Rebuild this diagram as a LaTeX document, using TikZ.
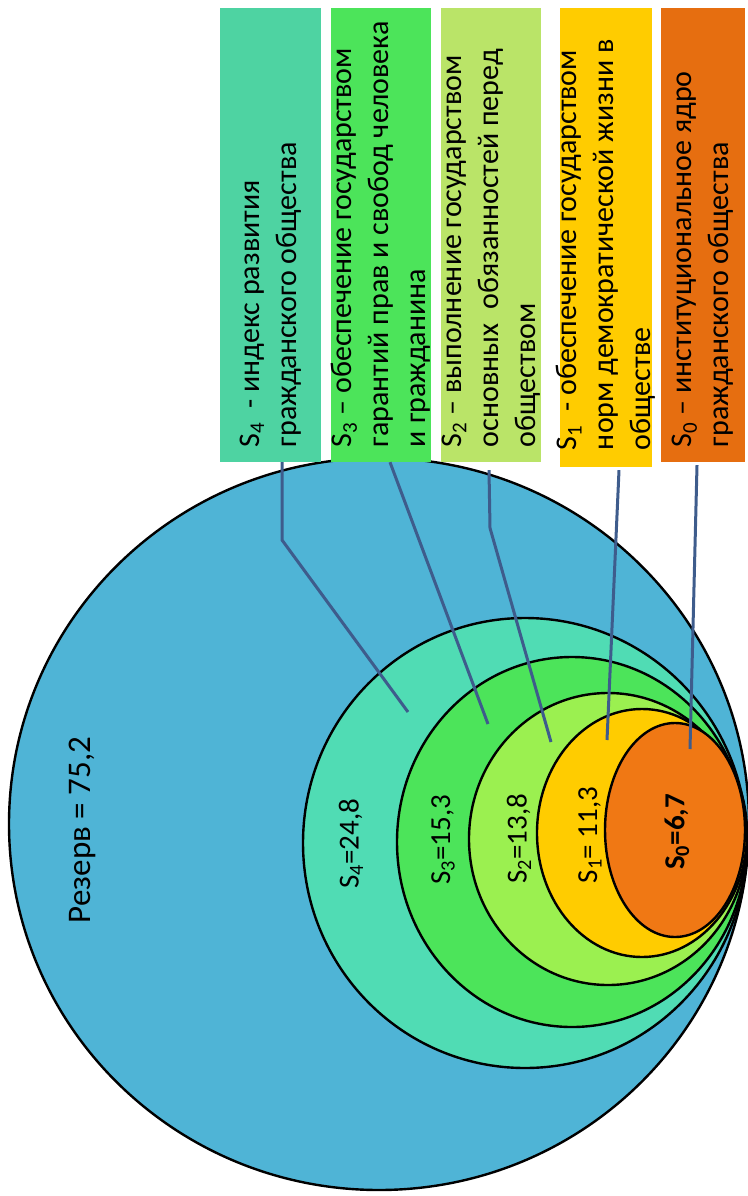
\documentclass[tikz,border=0pt]{standalone}
\usepackage{fontspec}
\setmainfont{Carlito}
\definecolor{rezerv}{HTML}{4FB4D6}
\definecolor{sfour}{HTML}{50DCB4}
\definecolor{sfourbox}{HTML}{4ED3A2}
\definecolor{sthree}{HTML}{4CE45A}
\definecolor{stwo}{HTML}{9BF050}
\definecolor{stwobox}{HTML}{BAE468}
\definecolor{sone}{HTML}{FFCC00}
\definecolor{szero}{HTML}{F07814}
\definecolor{szerobox}{HTML}{E66E10}
\definecolor{linkblue}{HTML}{3E5C8C}
\tikzset{
  ring/.style={draw=black, line width=2.4pt},
  legbox/.style={rotate=90, minimum width=454pt, inner sep=0pt},
  legtext/.style={rotate=90, anchor=west, inner sep=0pt, align=left,
    font=\fontsize{30}{37}\selectfont},
  val/.style={rotate=90, font=\fontsize{29}{34}\selectfont},
  link/.style={draw=linkblue, line width=3pt}
}
\begin{document}
\begin{tikzpicture}[x=1pt,y=-1pt]
	\useasboundingbox (0,0) rectangle (747,1196);
	% nested rings
	\draw[ring, fill=rezerv] (379,824) ellipse [x radius=370, y radius=366];
	\draw[ring, fill=sfour]  (525,843) ellipse [x radius=222, y radius=225];
	\draw[ring, fill=sthree] (572,842) ellipse [x radius=175, y radius=185];
	\draw[ring, fill=stwo]   (608,839) ellipse [x radius=139, y radius=146];
	\draw[ring, fill=sone]   (642,833) ellipse [x radius=105, y radius=124];
	\draw[ring, fill=szero]  (675,830) ellipse [x radius=70,  y radius=107];

	\node[val, font=\fontsize{33}{38}\selectfont] (rez) at (82,830) {Резерв = 75,2};
	\node[val] (v4)  at (351,844) {S\textsubscript{4}=24,8};
	\node[val] (v3)  at (443,840) {S\textsubscript{3}=15,3};
	\node[val] (v2)  at (519,839) {S\textsubscript{2}=13,8};
	\node[val] (v1)  at (590,835) {S\textsubscript{1}= 11,3};
	\node[val] (v0)  at (677,832) {\bfseries S\textsubscript{0}=6,7};

	% legend boxes
	\node[legbox, fill=sfourbox, minimum height=101pt] (b4) at (270.5,235) {};
	\node[legbox, fill=sthree, minimum height=100pt] (b3) at (381,235) {};
	\node[legbox, fill=stwobox, minimum height=100pt] (b2) at (491,235) {};
	\node[legbox, fill=sone, minimum height=92pt, minimum width=459pt] (b1) at (606,237.5) {};
	\node[legbox, fill=szerobox, minimum height=84pt] (b0) at (703,235) {};
	\node[legtext] (t4) at ([yshift=15pt]b4.west)
		{S\textsubscript{4} \ - индекс развития\\гражданского общества};
	\node[legtext] (t3) at ([yshift=15pt]b3.west)
		{S\textsubscript{3} – обеспечение государством\\гарантий прав и свобод человека\\и гражданина};
	\node[legtext] (t2) at ([yshift=15pt]b2.west)
		{S\textsubscript{2} – выполнение государством\\основных\ \ обязанностей перед\\обществом};
	\node[legtext] (t1) at ([yshift=17pt]b1.west)
		{S\textsubscript{1} \ - обеспечение государством\\норм демократической жизни в\\обществе};
	\node[legtext] (t0) at ([yshift=15pt]b0.west)
		{S\textsubscript{0} – институциональное ядро\\гражданского общества};

	% connectors
	\coordinate (k4) at (282,540);
	\coordinate (k2) at (490,528);
	\coordinate (e4) at (408,712);
	\coordinate (e3) at (488,724);
	\coordinate (e2) at (551,742);
	\coordinate (e1) at (607,740);
	\coordinate (e0) at (690,749);
	\draw[link] ([xshift=11.5pt]b4.west) -- (k4) -- (e4);
	\draw[link] ([xshift=9pt]b3.west) -- (e3);
	\draw[link] ([xshift=-2pt,yshift=-8pt]b2.west) -- (k2) -- (e2);
	\draw[link] ([xshift=13pt,yshift=-3pt]b1.west) -- (e1);
	\draw[link] ([xshift=-6pt,yshift=-3pt]b0.west) -- (e0);
\end{tikzpicture}
\end{document}
